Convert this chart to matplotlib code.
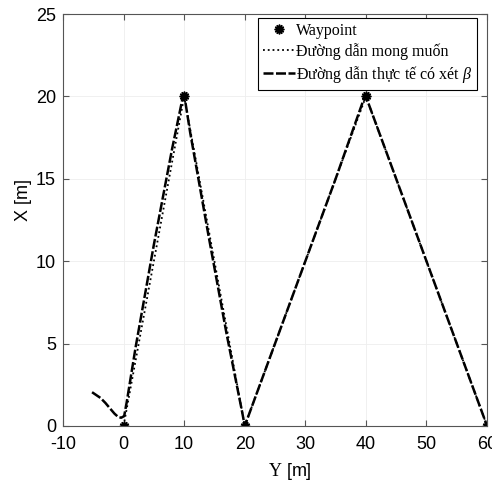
import numpy as np
import matplotlib.pyplot as plt

# punkty trasy (Y, X)
wp_y = [0, 10, 20, 40, 60]
wp_x = [0, 20, 0, 20, 0]

# sciezka zadana
des_y = [0, 10, 20, 40, 60]
des_x = [0, 20, 0, 20, 0]

# sciezka rzeczywista (odczyt z wykresu)
act_y = [-5.2, -4.6, -3.8, -3.0, -2.2, -1.5, -0.9, -0.4, 0.1, 0.5, 2.0, 5.0, 8.0, 9.8, 10.1,
         11.0, 14.0, 17.0, 19.0, 19.6, 20.0, 25.0, 30.0, 35.0, 39.8, 40.2, 45.0, 50.0, 55.0, 60.0]
act_x = [2.05, 1.9, 1.7, 1.4, 1.05, 0.75, 0.55, 0.5, 0.6, 1.4, 4.8, 11.0, 16.8, 20.0, 19.9,
         17.8, 11.6, 5.6, 1.9, 0.8, 0.0, 5.0, 10.0, 15.0, 20.0, 19.8, 15.0, 10.0, 5.0, 0.0]

plt.rcParams['font.family'] = ['Liberation Sans', 'DejaVu Sans']
plt.rcParams['axes.unicode_minus'] = False
plt.rcParams['mathtext.fontset'] = 'custom'
plt.rcParams['mathtext.rm'] = 'Liberation Serif'
plt.rcParams['mathtext.it'] = 'Liberation Serif:italic'

fig = plt.figure(figsize=(4.92, 4.86), dpi=100)
ax = fig.add_axes([0.128, 0.1235, 0.862, 0.8475])

ax.plot(des_y, des_x, ':', color='black', linewidth=1.3, label='Đường dẫn mong muốn')
ax.plot(act_y, act_x, '--', color='black', linewidth=1.8, dashes=(4, 1),
        label=r'Đường dẫn thực tế có xét $\beta$')
wp, = ax.plot(wp_y, wp_x, linestyle='none', marker=(12, 1, 0), markersize=7,
              color='black', label='Waypoint')

ax.set_xlim(-10, 60)
ax.set_ylim(0, 25)
ax.set_xticks(np.arange(-10, 61, 10))
ax.set_yticks(np.arange(0, 26, 5))
ax.grid(True, color='#eeeeee', linewidth=0.6)
ax.tick_params(direction='in', top=True, right=True, labelsize=13, length=4, color='#555555')
ax.tick_params(axis='x', pad=7)
ax.tick_params(axis='y', pad=5)
for s in ax.spines.values():
    s.set_color('#555555')
    s.set_linewidth(0.8)

ax.set_ylabel('X [m]', fontsize=13)
ax.set_xlabel(r'$\mathrm{Y}$ [m]', fontsize=13)
ax.yaxis.set_label_coords(-0.072, 0.549)
ax.xaxis.set_label_coords(0.535, -0.085)

h, l = ax.get_legend_handles_labels()
leg = ax.legend([h[2], h[0], h[1]], [l[2], l[0], l[1]], loc='upper right',
                prop={'family': ['Liberation Serif', 'DejaVu Serif'], 'size': 11.5},
                fancybox=False, edgecolor='black', framealpha=1,
                handlelength=2.0, handletextpad=0.05, borderpad=0.3, labelspacing=0.25,
                borderaxespad=0, bbox_to_anchor=(0.976, 0.99))
leg.get_frame().set_linewidth(0.8)

fig.savefig('out.png', dpi=100)
